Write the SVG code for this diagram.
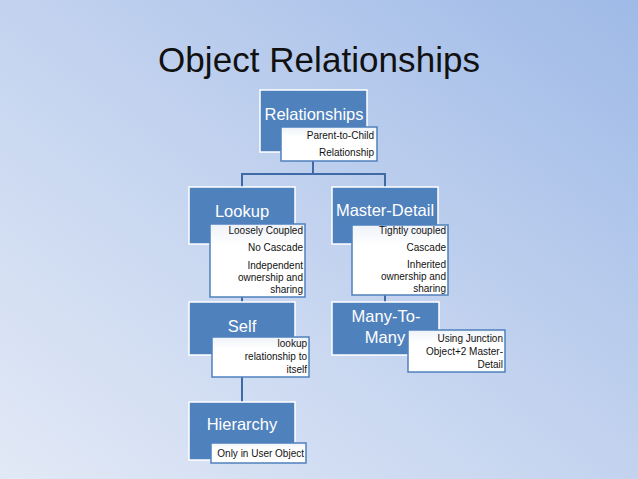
<svg xmlns="http://www.w3.org/2000/svg" width="638" height="479" viewBox="0 0 638 479">
<defs>
<linearGradient id="bg" x1="0" y1="1" x2="1" y2="0">
<stop offset="0" stop-color="#e2e9f6"/>
<stop offset="0.5" stop-color="#c3d3ef"/>
<stop offset="1" stop-color="#9fbae7"/>
</linearGradient>
<linearGradient id="tb" x1="0" y1="0" x2="0" y2="1">
<stop offset="0" stop-color="#eef2f8"/>
<stop offset="0.3" stop-color="#ffffff"/>
<stop offset="1" stop-color="#ffffff"/>
</linearGradient>
<style>
.box{fill:#4f81bd;stroke:#ffffff;stroke-width:1.5}
.tbox{fill:url(#tb);stroke:#4f81bd;stroke-width:1.5}
.bt{font-family:"Liberation Sans",Arial,sans-serif;font-size:16.5px;fill:#ffffff;text-anchor:middle}
.st{font-family:"Liberation Sans",Arial,sans-serif;font-size:10px;fill:#111111;text-anchor:end}
.conn{stroke:#3f6aa6;stroke-width:2;fill:none}
</style>
</defs>
<rect width="638" height="479" fill="url(#bg)"/>
<text x="158" y="72" font-family="'Liberation Sans',Arial,sans-serif" font-size="35" fill="#111111" textLength="322">Object Relationships</text>
<g id="connectors">
<path class="conn" d="M313,161 V174 M242,187 V174 H385 V187 M242,297 V302 M242,377 V402 M385,295 V302"/>
</g>
<g id="relationships">
<rect class="box" x="260" y="90" width="107" height="62"/>
<text class="bt" x="314" y="120">Relationships</text>
<rect class="tbox" x="281" y="127" width="96" height="34"/>
<text class="st" x="374" y="139">Parent-to-Child</text>
<text class="st" x="374" y="156">Relationship</text>
</g>
<g id="lookup">
<rect class="box" x="189" y="187" width="106" height="57"/>
<text class="bt" x="242" y="217">Lookup</text>
<rect class="tbox" x="210" y="224" width="95" height="73"/>
<text class="st" x="303" y="234">Loosely Coupled</text>
<text class="st" x="303" y="251">No Cascade</text>
<text class="st" x="303" y="269">Independent</text>
<text class="st" x="303" y="281">ownership and</text>
<text class="st" x="303" y="293">sharing</text>
</g>
<g id="master-detail">
<rect class="box" x="332" y="187" width="106" height="57"/>
<text class="bt" x="385" y="216">Master-Detail</text>
<rect class="tbox" x="352" y="225" width="96" height="70"/>
<text class="st" x="446" y="234">Tightly coupled</text>
<text class="st" x="446" y="251">Cascade</text>
<text class="st" x="446" y="268">Inherited</text>
<text class="st" x="446" y="280">ownership and</text>
<text class="st" x="446" y="292">sharing</text>
</g>
<g id="self">
<rect class="box" x="189" y="302" width="106" height="53"/>
<text class="bt" x="242" y="332">Self</text>
<rect class="tbox" x="212" y="337" width="97" height="40"/>
<text class="st" x="307" y="347">lookup</text>
<text class="st" x="307" y="360">relationship to</text>
<text class="st" x="307" y="373">itself</text>
</g>
<g id="hierarchy">
<rect class="box" x="189" y="402" width="106" height="58"/>
<text class="bt" x="242" y="430">Hierarchy</text>
<rect class="tbox" x="211" y="443" width="95" height="20"/>
<text class="st" x="304" y="457">Only in User Object</text>
</g>
<g id="many-to-many">
<rect class="box" x="332" y="302" width="107" height="53"/>
<text class="bt" x="386" y="322">Many-To-</text>
<text class="bt" x="385" y="343">Many</text>
<rect class="tbox" x="408" y="330" width="97" height="42"/>
<text class="st" x="503" y="342">Using Junction</text>
<text class="st" x="503" y="355">Object+2 Master-</text>
<text class="st" x="503" y="368">Detail</text>
</g>
</svg>
